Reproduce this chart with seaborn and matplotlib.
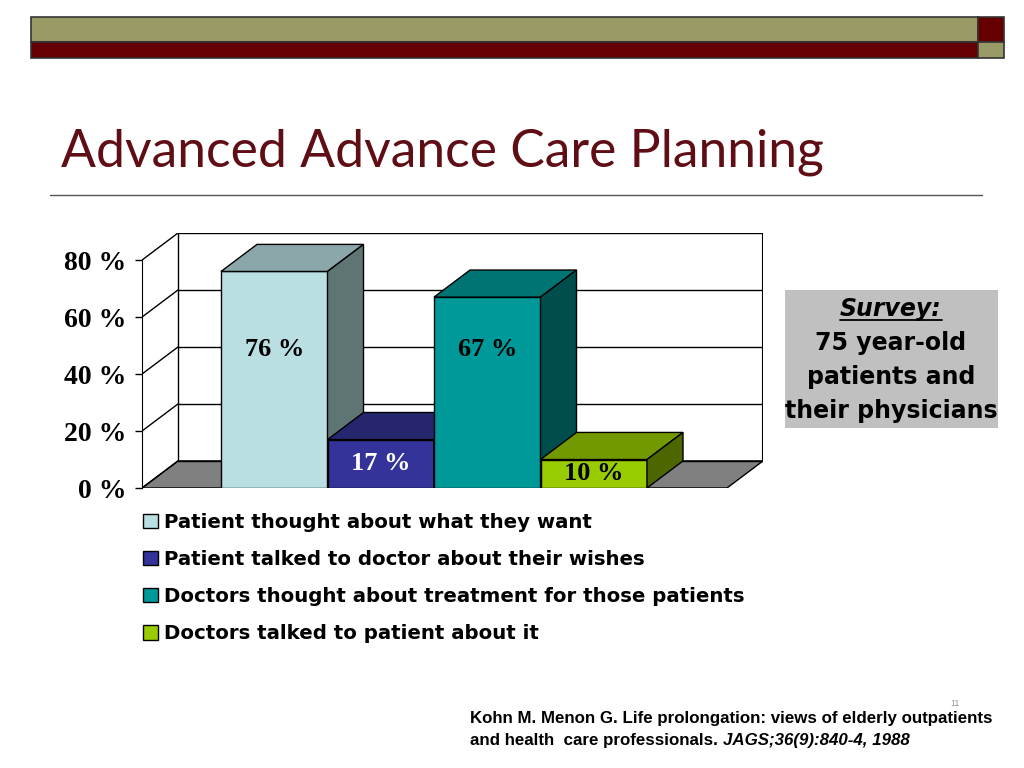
import numpy as np
import matplotlib
matplotlib.use("Agg")
import matplotlib.pyplot as plt
import seaborn as sns
from matplotlib.patches import Rectangle, Polygon
from matplotlib.lines import Line2D

# dữ liệu
categories = ["Patient thought about what they want",
              "Patient talked to doctor about their wishes",
              "Doctors thought about treatment for those patients",
              "Doctors talked to patient about it"]
values = [76, 17, 67, 10]
bar_labels = ["76 %", "17 %", "67 %", "10 %"]
label_colors = ["black", "white", "black", "black"]
front_colors = ["#B9DFE2", "#333399", "#009999", "#99CC00"]
top_colors = ["#8BA7A9", "#26266F", "#007373", "#739900"]
side_colors = ["#5F7574", "#1A1A4D", "#004D4D", "#4D6600"]
yticks = [0, 20, 40, 60, 80]
ytick_labels = ["0 %", "20 %", "40 %", "60 %", "80 %"]
title = "Advanced Advance Care Planning"
survey_lines = ["75 year-old", "patients and", "their physicians"]
cite1 = "Kohn M. Menon G. Life prolongation: views of elderly outpatients"
cite2a = "and health  care professionals. "
cite2b = "JAGS;36(9):840-4, 1988"

W, H = 1024, 768
sns.set_style("white")
plt.rcParams["text.color"] = "black"
plt.rcParams["ytick.color"] = "black"
fig = plt.figure(figsize=(W / 100, H / 100), dpi=100)

def fx(x):
    return x / W

def fy(y):
    return 1 - y / H

# thanh trang trí phía trên
def rect_px(x0, y0, x1, y1, color):
    fig.add_artist(Rectangle((fx(x0), fy(y1)), fx(x1) - fx(x0), fy(y0) - fy(y1),
                             transform=fig.transFigure, facecolor=color,
                             edgecolor="#333333", linewidth=1.2))

rect_px(31, 17, 978, 42, "#9A9A66")
rect_px(31, 42, 978, 58, "#660000")
rect_px(978, 17, 1004, 42, "#660000")
rect_px(978, 42, 1004, 58, "#9A9A66")

# tiêu đề
fig.text(fx(61), fy(152), title, fontsize=37.2, color="#5E0E14",
         family="Lato", va="center", ha="left")
fig.add_artist(Line2D([fx(50), fx(982)], [fy(195), fy(195)],
                      transform=fig.transFigure, color="#555555", linewidth=1))

# trục chính
ax_l, ax_r, ax_b, ax_t = 142, 763, 488, 233
ax = fig.add_axes([fx(ax_l), fy(ax_b), fx(ax_r) - fx(ax_l), fy(ax_t) - fy(ax_b)])

sns.barplot(x=categories, y=values, hue=categories, palette=front_colors,
            saturation=1, width=1.0, edgecolor="black", linewidth=1,
            legend=False, ax=ax, order=categories, hue_order=categories)

dx, dy = 0.338, 9.5
xf0 = -0.5 - (221 - 142) / 106.5
xf1 = xf0 + (727 - 142) / 106.5
ax.set_xlim(xf0, xf1 + dx)
ax.set_ylim(0, 80 + dy)

# sàn
ax.add_patch(Polygon([(xf0, 0), (xf1, 0), (xf1 + dx, dy), (xf0 + dx, dy)],
                     facecolor="#808080", edgecolor="black", linewidth=1, zorder=1))
# tường sau + lưới
for v in yticks:
    ax.plot([xf0 + dx, xf1 + dx], [v + dy, v + dy], color="black", lw=1, zorder=1)
    ax.plot([xf0, xf0 + dx], [v, v + dy], color="black", lw=1, zorder=1)
ax.plot([xf0 + dx, xf0 + dx], [dy, 80 + dy], color="black", lw=1, zorder=1)
ax.plot([xf1 + dx, xf1 + dx], [dy, 80 + dy], color="black", lw=1.5, zorder=1)

bars = [c[0] for c in ax.containers]
for i, b in enumerate(bars):
    x0 = b.get_x()
    x1 = x0 + b.get_width()
    h = b.get_height()
    z = 3 + 3 * i
    b.set_zorder(z)
    ax.add_patch(Polygon([(x0, h), (x0 + dx, h + dy), (x1 + dx, h + dy), (x1, h)],
                         facecolor=top_colors[i], edgecolor="black", lw=1, zorder=z + 1))
    ax.add_patch(Polygon([(x1, 0), (x1 + dx, dy), (x1 + dx, h + dy), (x1, h)],
                         facecolor=side_colors[i], edgecolor="black", lw=1, zorder=z + 1))
    ly = 48.7 if h > 40 else h / 2
    ax.text(x0 + b.get_width() / 2, ly, bar_labels[i], ha="center", va="center",
            fontsize=19, fontweight="bold", family="Liberation Serif",
            color=label_colors[i], zorder=30)

ax.set_xticks([])
ax.set_yticks(yticks)
ax.set_yticklabels(ytick_labels, fontsize=20, fontweight="bold",
                   family="Liberation Serif", color="black")
ax.tick_params(axis="y", length=5, width=1, color="black", pad=6, left=True)
for s in ["top", "right", "bottom"]:
    ax.spines[s].set_visible(False)
ax.spines["left"].set_bounds(0, 80)
ax.spines["left"].set_color("black")
ax.set_xlabel("")
ax.set_ylabel("")
ax.patch.set_alpha(0)

# chú giải
leg = ax.legend(bars, categories, loc="upper left",
                bbox_to_anchor=(fx(125), fy(495)), bbox_transform=fig.transFigure,
                frameon=False, handlelength=0.75, handleheight=0.75,
                handletextpad=0.35, labelspacing=0.92,
                prop={"family": "DejaVu Sans", "size": 14.2, "weight": "bold"})
for t in leg.get_texts():
    t.set_color("black")

# hộp khảo sát
rect = Rectangle((fx(785), fy(428)), fx(998) - fx(785), fy(290) - fy(428),
                 transform=fig.transFigure, facecolor="#C0C0C0", edgecolor="none")
fig.add_artist(rect)
sx = fx(891)
t_survey = fig.text(sx, fy(309), "Survey:", ha="center", va="center", fontsize=17,
                    style="italic", fontweight="bold", family="DejaVu Sans")
for k, line in enumerate(survey_lines):
    fig.text(sx, fy(343 + 34 * k), line, ha="center", va="center", fontsize=17,
             fontweight="bold", family="DejaVu Sans")

# trích dẫn
fig.text(fx(470), fy(719), cite1, ha="left", va="center", fontsize=12.2,
         fontweight="bold", family="Liberation Sans")
t2 = fig.text(fx(470), fy(740), cite2a, ha="left", va="center", fontsize=12.2,
              fontweight="bold", family="Liberation Sans")
fig.text(fx(955), fy(703), "11", ha="center", va="center", fontsize=6.5,
         color="#999999", family="Liberation Sans")

fig.canvas.draw()
r = fig.canvas.get_renderer()
ext = t2.get_window_extent(r)
fig.text(ext.x1 / W, fy(740), cite2b, ha="left", va="center", fontsize=12.2,
         fontweight="bold", style="italic", family="Liberation Sans")
ex = t_survey.get_window_extent(r)
fig.add_artist(Line2D([ex.x0 / W, ex.x1 / W], [(ex.y0 + 1) / H, (ex.y0 + 1) / H],
                      transform=fig.transFigure, color="black", lw=1.3))

fig.savefig("out.png", dpi=100)
